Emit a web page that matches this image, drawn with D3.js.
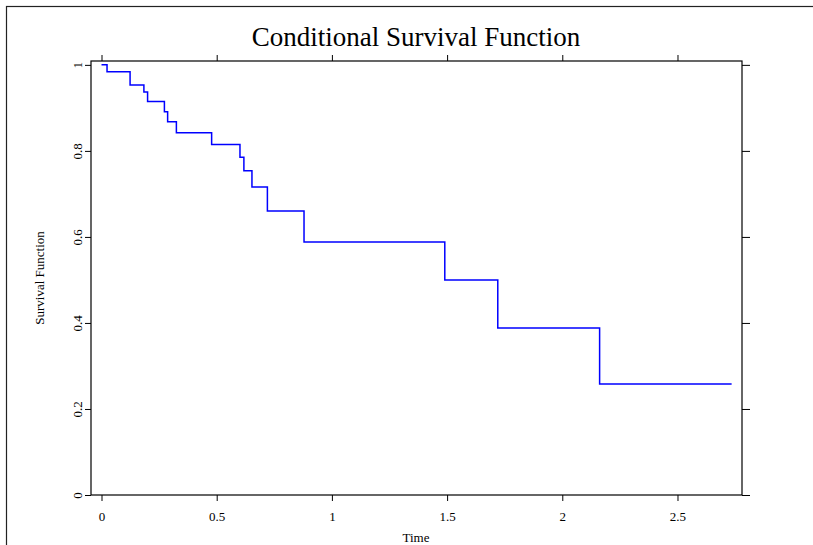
<!DOCTYPE html>
<html>
<head>
<meta charset="utf-8">
<script src="https://cdn.jsdelivr.net/npm/d3@7"></script>
<style>
  body { margin: 0; background: #fff; }
  svg { display: block; }
  .axis text { font-family: "Liberation Serif", "DejaVu Serif", serif; font-size: 13px; fill: #000; }
  .axis line, .axis path { stroke: #000; }
</style>
</head>
<body>
<div id="chart"></div>
<script>
// Kaplan-Meier style step estimate
var times    = [0, 0.024, 0.124, 0.184, 0.200, 0.273, 0.287, 0.325, 0.478, 0.601, 0.618, 0.653, 0.720, 0.879, 1.490, 1.720, 2.162, 2.735];
var survival = [1, 0.984, 0.953, 0.937, 0.915, 0.891, 0.868, 0.842, 0.815, 0.785, 0.754, 0.716, 0.660, 0.588, 0.500, 0.388, 0.258, 0.258];
var xTicks = [0, 0.5, 1, 1.5, 2, 2.5];
var yTicks = [0, 0.2, 0.4, 0.6, 0.8, 1];

var W = 813, H = 545;
// plot box edges (pixels)
var boxL = 91, boxR = 742, boxT = 61, boxB = 495;

var svg = d3.select("#chart").append("svg")
    .attr("width", W).attr("height", H);

// outer frame (runs off the right and bottom edges)
svg.append("rect").attr("x", 6.5).attr("y", 6.5)
    .attr("width", W).attr("height", H)
    .attr("fill", "none").attr("stroke", "#222").attr("stroke-width", 1.2);

var x = d3.scaleLinear().domain([-0.0456, 2.78]).range([boxL, boxR]);
var y = d3.scaleLinear().domain([0, 1.009]).range([boxB, boxT]);

var fmt = function(d) { return String(d); };

// bottom axis
var gx = svg.append("g").attr("class", "axis")
    .attr("transform", "translate(0," + boxB + ")")
    .call(d3.axisBottom(x).tickValues(xTicks).tickSize(6).tickSizeOuter(0).tickFormat(fmt));
gx.select(".domain").remove();
gx.selectAll("text").attr("y", 17);

// top axis, ticks only
var gt = svg.append("g").attr("class", "axis")
    .attr("transform", "translate(0," + boxT + ")")
    .call(d3.axisTop(x).tickValues(xTicks).tickSize(6).tickSizeOuter(0).tickFormat(""));
gt.select(".domain").remove();

// left axis with rotated labels
var gy = svg.append("g").attr("class", "axis")
    .attr("transform", "translate(" + boxL + ",0)")
    .call(d3.axisLeft(y).tickValues(yTicks).tickSize(6).tickSizeOuter(0).tickFormat(fmt));
gy.select(".domain").remove();
gy.selectAll("text")
    .attr("x", null).attr("dy", null).attr("y", null)
    .attr("text-anchor", "middle")
    .attr("transform", "translate(-9.5,0) rotate(-90)");

// right axis, ticks only
var gr = svg.append("g").attr("class", "axis")
    .attr("transform", "translate(" + boxR + ",0)")
    .call(d3.axisRight(y).tickValues(yTicks).tickSize(8).tickSizeOuter(0).tickFormat(""));
gr.select(".domain").remove();

// plot box
svg.append("rect").attr("x", boxL).attr("y", boxT)
    .attr("width", boxR - boxL).attr("height", boxB - boxT)
    .attr("fill", "none").attr("stroke", "#000").attr("stroke-width", 1.2);

// survival curve
var pts = times.map(function(t, i) { return [t, survival[i]]; });
var line = d3.line()
    .x(function(d) { return x(d[0]); })
    .y(function(d) { return y(d[1]); })
    .curve(d3.curveStepAfter);
svg.append("path").datum(pts)
    .attr("d", line)
    .attr("fill", "none").attr("stroke", "#0000ff").attr("stroke-width", 1.5);

// titles
svg.append("text").attr("x", 416).attr("y", 46)
    .attr("text-anchor", "middle")
    .style("font-family", "'Liberation Serif', serif").style("font-size", "27px")
    .text("Conditional Survival Function");

svg.append("text").attr("x", 416).attr("y", 542)
    .attr("text-anchor", "middle")
    .style("font-family", "'Liberation Serif', serif").style("font-size", "13px")
    .text("Time");

svg.append("text")
    .attr("transform", "translate(44," + ((boxT + boxB) / 2) + ") rotate(-90)")
    .attr("text-anchor", "middle")
    .style("font-family", "'Liberation Serif', serif").style("font-size", "13px")
    .text("Survival Function");
</script>
</body>
</html>
